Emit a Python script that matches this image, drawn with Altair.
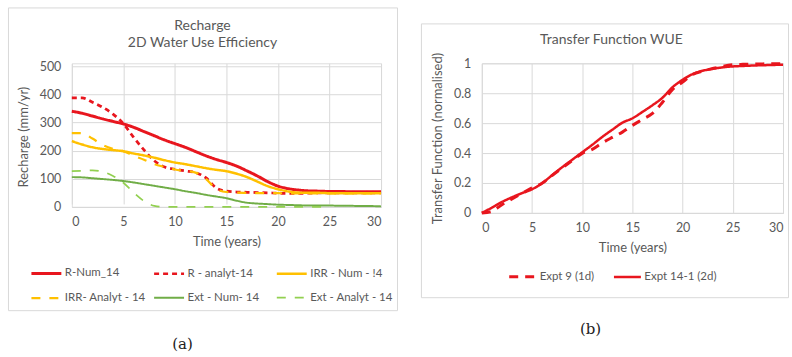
import altair as alt
import pandas as pd

# ---------------- Panel (a) data ----------------
years = list(range(31))
series_a = ["R-Num_14", "R - analyt-14", "IRR - Num - !4",
            "IRR- Analyt - 14", "Ext - Num- 14", "Ext - Analyt - 14"]
r_num = [340, 333, 323, 313, 304, 295, 283, 268, 253, 238, 225, 212, 197, 182, 169, 158,
         145, 128, 110, 90, 74, 65, 60, 57, 56, 55, 55, 54, 54, 54, 54]
r_analyt = [388, 388, 372, 354, 330, 296, 247, 203, 164, 142, 134, 128, 122, 104, 68, 56,
            53, 52, 51, 50, 49, 48, 48, 49, 50, 50, 50, 50, 50, 50, 50]
irr_num = [234, 222, 212, 206, 202, 198, 190, 183, 175, 166, 158, 152, 145, 138, 132, 127,
           118, 106, 90, 74, 63, 55, 51, 50, 50, 49, 49, 49, 49, 49, 49]
irr_analyt = [262, 262, 243, 220, 206, 198, 182, 168, 152, 142, 133, 128, 122, 100, 65, 53,
              51, 50, 49, 49, 49, 48, 48, 48, 48, 48, 48, 48, 48, 48, 48]
ext_num = [106, 105, 102, 99, 96, 92, 87, 81, 75, 69, 63, 56, 50, 43, 37, 31,
           22, 15, 12, 10, 8, 7, 6, 5, 5, 5, 4, 4, 3, 3, 2]
ext_analyt = [127, 128, 130, 125, 110, 86, 51, 21, 4, 0, 0, 0, 0, 0, 0, 0,
              0, 0, 0, 0, 0, 0, 0, 0, 0, 0]

# ---------------- Panel (b) data ----------------
series_b = ["Expt 9 (1d)", "Expt 14-1 (2d)"]
expt9 = [0, 0.01, 0.055, 0.093, 0.13, 0.167, 0.198, 0.25, 0.30, 0.35, 0.398, 0.425, 0.468,
         0.505, 0.54, 0.585, 0.625, 0.665, 0.74, 0.826, 0.875, 0.925, 0.948, 0.965, 0.98,
         0.99, 0.993, 0.995, 0.996, 0.997, 0.997]
expt14 = [0, 0.035, 0.073, 0.104, 0.132, 0.158, 0.198, 0.252, 0.305, 0.355, 0.405, 0.455,
          0.508, 0.556, 0.603, 0.632, 0.675, 0.72, 0.77, 0.84, 0.89, 0.928, 0.95, 0.963,
          0.973, 0.979, 0.982, 0.985, 0.987, 0.989, 0.99]

x_ticks = [0, 5, 10, 15, 20, 25, 30]
ya_ticks = [0, 100, 200, 300, 400, 500]
yb_ticks = [0, 0.2, 0.4, 0.6, 0.8, 1]

title_a = ["Recharge", "2D Water Use Efficiency"]
title_b = ["Transfer Function WUE"]

RED = "#E8161E"
YEL = "#FFC000"
GRN = "#70AD47"
LGRN = "#92D050"
GRID = "#D9D9D9"
TXT = "#595959"
FONT = "Lato"
LBL = 12.5
LEG = 11.5
TTL = 13


def long_df(names, lists):
    rows = []
    for i, (n, vals) in enumerate(zip(names, lists)):
        for t, v in zip(years, vals):
            rows.append({"t": t, "v": v, "s": n, "o": i})
    return pd.DataFrame(rows)


df_a = long_df(series_a, [r_num, r_analyt, irr_num, irr_analyt, ext_num, ext_analyt])
df_b = long_df(series_b, [expt9, expt14])

xaxis = dict(values=x_ticks, title="Time (years)", grid=True, gridColor=GRID,
             domainColor=GRID, ticks=False, tickSize=0, labelPadding=9,
             titlePadding=7, labelColor=TXT, titleColor=TXT, labelFontSize=LBL,
             titleFontSize=TTL, titleFontWeight="normal", labelFont=FONT, titleFont=FONT)


def yaxis(vals, title, fmt):
    return alt.Axis(values=vals, title=title, grid=True, gridColor=GRID, domain=False,
                    ticks=False, tickSize=0, labelPadding=11, titlePadding=9,
                    labelColor=TXT, titleColor=TXT, labelFontSize=LBL, titleFontSize=TTL,
                    titleFontWeight="normal", format=fmt, labelFont=FONT, titleFont=FONT)


def legend(cols, size, lx, ly, colpad):
    return alt.Legend(title=None, orient="none", legendX=lx, legendY=ly, columns=cols,
                      direction="horizontal", gridAlign="all", symbolType="stroke",
                      symbolSize=size, symbolStrokeWidth=3, labelFontSize=LEG,
                      labelColor=TXT, labelFont=FONT, columnPadding=colpad, rowPadding=2,
                      labelOffset=2)


def text_layer(lines, xs, ys, size, font, color):
    d = pd.DataFrame({"txt": lines})
    base = alt.Chart(d)
    layers = []
    for i in range(len(lines)):
        layers.append(base.transform_filter(alt.datum.txt == lines[i]).mark_text(
            font=font, fontSize=size, color=color, baseline="middle", align="center"
        ).encode(text="txt:N", x=alt.value(xs[i]), y=alt.value(ys[i])))
    return layers


# ---------------- Panel (a) ----------------
leg_a = legend(3, 900, -42, 194, 1)
lines_a = alt.Chart(df_a).mark_line(interpolate="monotone").encode(
    x=alt.X("t:Q", scale=alt.Scale(domain=[0, 30], nice=False), axis=alt.Axis(**xaxis)),
    y=alt.Y("v:Q", scale=alt.Scale(domain=[0, 500], range=[144, 3], nice=False),
            axis=yaxis(ya_ticks, "Recharge (mm/yr)", "d")),
    color=alt.Color("s:N", scale=alt.Scale(domain=series_a,
                                           range=[RED, RED, YEL, YEL, GRN, LGRN]),
                    legend=leg_a),
    strokeDash=alt.StrokeDash("s:N", scale=alt.Scale(
        domain=series_a, range=[[1, 0], [5, 4], [1, 0], [9, 9], [1, 0], [9, 9]]),
        legend=leg_a),
    strokeWidth=alt.StrokeWidth("s:N", scale=alt.Scale(
        domain=series_a, range=[3, 1.7, 3, 3, 3, 3]), legend=None),
    order=alt.Order("o:Q"),
)

box_a = alt.Chart(pd.DataFrame({"k": [0]})).mark_rect(
    fill=None, stroke=GRID, strokeWidth=1).encode(
    x=alt.value(-63.5), x2=alt.value(326.5), y=alt.value(-55.5), y2=alt.value(248))

titles_a = text_layer(title_a, [131, 131], [-37, -20], 14, FONT, TXT)
cap_a = text_layer(["(a)"], [111], [281], 15, "DejaVu Serif", "#222222")

panel_a = alt.layer(box_a, lines_a, *titles_a, *cap_a).properties(width=310, height=144)

# ---------------- Panel (b) ----------------
leg_b = legend(2, 729, 26, 199, -4)
lines_b = alt.Chart(df_b).mark_line(interpolate="monotone").encode(
    x=alt.X("t:Q", scale=alt.Scale(domain=[0, 30], nice=False), axis=alt.Axis(**xaxis)),
    y=alt.Y("v:Q", scale=alt.Scale(domain=[0, 1], nice=False),
            axis=yaxis(yb_ticks, "Transfer Function (normalised)", "~g")),
    color=alt.Color("s:N", scale=alt.Scale(domain=series_b, range=[RED, RED]),
                    legend=leg_b),
    strokeDash=alt.StrokeDash("s:N", scale=alt.Scale(domain=series_b,
                                                     range=[[9, 7], [1, 0]]),
                              legend=leg_b),
    strokeWidth=alt.StrokeWidth("s:N", scale=alt.Scale(domain=series_b, range=[3, 2.5]),
                                legend=None),
    order=alt.Order("o:Q"),
)

box_b = alt.Chart(pd.DataFrame({"k": [0]})).mark_rect(
    fill=None, stroke=GRID, strokeWidth=1).encode(
    x=alt.value(-60.5), x2=alt.value(307.5), y=alt.value(-39.5), y2=alt.value(235))

titles_b = text_layer(title_b, [130], [-23], 14, FONT, TXT)
cap_b = text_layer(["(b)"], [109], [266], 15, "DejaVu Serif", "#222222")

panel_b = alt.layer(box_b, lines_b, *titles_b, *cap_b).properties(width=302, height=150)

chart = alt.hconcat(panel_a, panel_b, spacing=101, bounds="flush").resolve_scale(
    color="independent", strokeDash="independent", strokeWidth="independent"
).resolve_legend(
    color="independent", strokeDash="independent"
).properties(
    padding={"left": 7, "top": 6, "right": 2, "bottom": 0},
    background="white",
).configure_view(stroke=None).configure(font=FONT)

chart.save("out.html", embed_options={"renderer": "svg", "actions": False})
